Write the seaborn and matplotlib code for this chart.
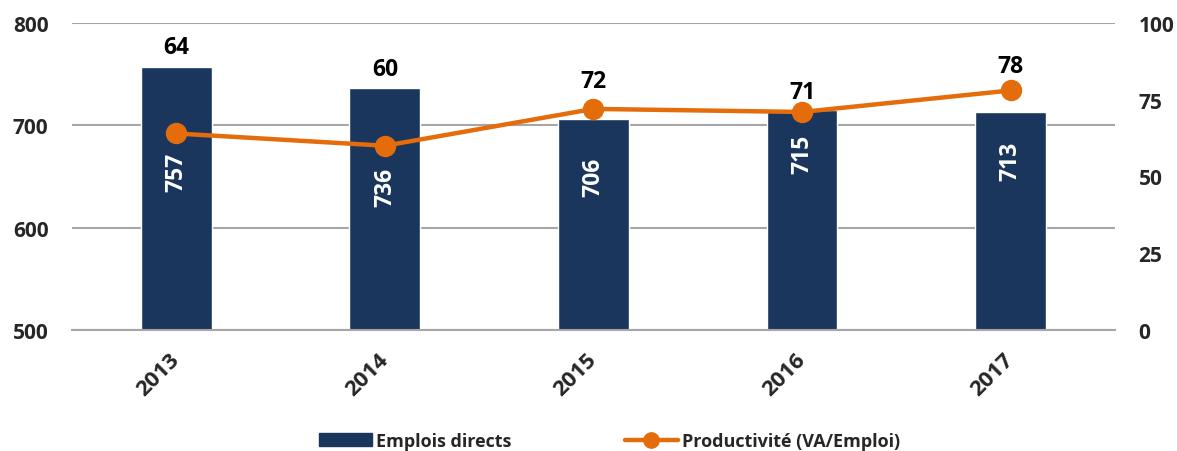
import matplotlib
matplotlib.use("Agg")
import matplotlib.pyplot as plt
import numpy as np
import pandas as pd
import seaborn as sns
from matplotlib.lines import Line2D
from matplotlib.patches import Patch

YEARS = ["2013", "2014", "2015", "2016", "2017"]
EMPLOIS = [757, 736, 706, 715, 713]
PRODUCTIVITE = [64, 60, 72, 71, 78]

# label placement (data units)
EMPLOI_LABEL_Y = [655, 640, 650, 673, 666]
PROD_LABEL_Y = [92.2, 85.0, 81.1, 77.5, 86.0]

NAVY = "#1B365D"
ORANGE = "#E46C0A"
GRID = "#A6A6A6"

sns.set_theme(style="white")
plt.rcParams["font.family"] = ["Open Sans", "DejaVu Sans"]
plt.rcParams["font.weight"] = "bold"

df = pd.DataFrame({"annee": YEARS, "emplois": EMPLOIS, "prod": PRODUCTIVITE})

fig = plt.figure(figsize=(11.77, 4.52), dpi=100)
ax = fig.add_axes([0.0612, 0.2677, 0.886, 0.6794])

sns.barplot(data=df, x="annee", y="emplois", color=NAVY, width=0.34,
            saturation=1, ax=ax, zorder=2)
ax.set_ylim(500, 800)
ax.set_yticks([500, 600, 700, 800])
ax.yaxis.grid(True, color=GRID, linewidth=1.5, zorder=0)
ax.set_axisbelow(True)
ax.set_xlabel("")
ax.set_ylabel("")
for side in ["top", "right", "left"]:
    ax.spines[side].set_visible(False)
ax.spines["bottom"].set_color(GRID)
ax.spines["bottom"].set_linewidth(1.5)
ax.tick_params(axis="y", length=0, labelsize=15, pad=17)
ax.tick_params(axis="x", which="major", length=0, labelsize=16, pad=19)
ax.set_xticks(np.arange(-0.5, len(YEARS)), minor=True)
ax.tick_params(axis="x", which="minor", length=6, width=1.5, color=GRID)
for lab in ax.get_xticklabels():
    lab.set_rotation(45)
    lab.set_rotation_mode("anchor")
    lab.set_ha("right")
    lab.set_va("center")
    lab.set_fontweight("bold")
for lab in ax.get_yticklabels():
    lab.set_fontweight("bold")

for i, (v, ly) in enumerate(zip(EMPLOIS, EMPLOI_LABEL_Y)):
    ax.text(i, ly, str(v), rotation=90, ha="center", va="center",
            color="white", fontsize=16.5, fontweight="bold", zorder=3)

ax2 = ax.twinx()
sns.pointplot(data=df, x="annee", y="prod", color=ORANGE, markers="o",
              linewidth=3.2, markersize=13, ax=ax2)
ax2.set_ylim(0, 100)
ax2.set_yticks([0, 25, 50, 75, 100])
ax2.set_xlim(-0.5, len(YEARS) - 0.5)
ax2.set_ylabel("")
ax2.set_xlabel("")
for side in ["top", "right", "left", "bottom"]:
    ax2.spines[side].set_visible(False)
ax2.tick_params(axis="y", length=0, labelsize=15, pad=17)
ax2.grid(False)
for lab in ax2.get_yticklabels():
    lab.set_fontweight("bold")

for i, (v, ly) in enumerate(zip(PRODUCTIVITE, PROD_LABEL_Y)):
    ax2.text(i, ly, str(v), ha="center", va="center", color="black",
             fontsize=16.5, fontweight="bold")

handles = [
    Patch(facecolor=NAVY, edgecolor=NAVY),
    Line2D([0], [0], color=ORANGE, linewidth=3.2, marker="o", markersize=11),
]
fig.legend(handles, ["Emplois directs", "Productivité (VA/Emploi)"],
           loc="center", bbox_to_anchor=(0.518, 0.022), ncol=2, frameon=False,
           prop={"size": 13, "weight": "bold"}, handlelength=2.9,
           handleheight=0.7, columnspacing=6.3, handletextpad=0.25,
           borderpad=0.1)

fig.savefig("out.png", dpi=100)
